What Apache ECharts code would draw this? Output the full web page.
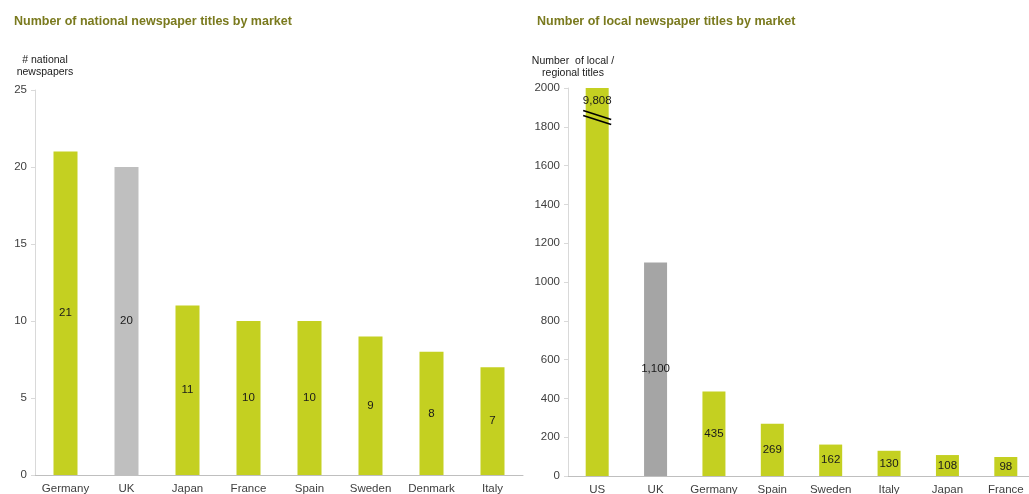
<!DOCTYPE html>
<html><head><meta charset="utf-8">
<script src="https://cdn.jsdelivr.net/npm/echarts@6/dist/echarts.min.js"></script>
<style>html,body{margin:0;padding:0;background:#fff}#c{width:1029px;height:494px}</style>
</head><body><div id="c"></div>
<script>
const nationalCategories = ['Germany','UK','Japan','France','Spain','Sweden','Denmark','Italy'];
const nationalValues = [21,20,11,10,10,9,8,7];
const localCategories = ['US','UK','Germany','Spain','Sweden','Italy','Japan','France'];
const localValues = [9808,1100,435,269,162,130,108,98];
const localBreakValue = 1845;

const GREEN = '#C4D021';
const FONT = '"Liberation Sans", Arial, sans-serif';
const chart = echarts.init(document.getElementById('c'));

function fmt(v){ return v.toLocaleString('en-US'); }

const axisLabelStyle = {color:'#404040', fontSize:11.5, fontFamily:FONT};

chart.setOption({
  animation:false,
  title:[
    {text:'Number of national newspaper titles by market', left:9, top:10,
     textStyle:{color:'#7A7A1E', fontSize:12.5, fontWeight:'bold', fontFamily:FONT}},
    {text:'Number of local newspaper titles by market', left:532, top:10,
     textStyle:{color:'#7A7A1E', fontSize:12.5, fontWeight:'bold', fontFamily:FONT}}
  ],
  grid:[
    {left:35, right:1029-523, top:90, bottom:19, outerBoundsMode:'none', containLabel:false},
    {left:568, right:-6, top:88, bottom:18, outerBoundsMode:'none', containLabel:false}
  ],
  xAxis:[
    {type:'category', gridIndex:0, data:nationalCategories,
     axisLine:{lineStyle:{color:'#BFBFBF'}}, axisTick:{show:false},
     axisLabel:Object.assign({margin:8, interval:0}, axisLabelStyle)},
    {type:'category', gridIndex:1, data:localCategories,
     axisLine:{lineStyle:{color:'#BFBFBF'}}, axisTick:{show:false},
     axisLabel:Object.assign({margin:8, interval:0}, axisLabelStyle)}
  ],
  yAxis:[
    {type:'value', gridIndex:0, min:0, max:25, interval:5,
     name:'# national\nnewspapers', nameLocation:'end', nameGap:12,
     nameTextStyle:{color:'#202020', fontSize:10.5, fontFamily:FONT, align:'center', lineHeight:12, padding:[0,0,0,20]},
     axisLine:{show:true, lineStyle:{color:'#D9D9D9'}},
     axisTick:{show:true, length:4, lineStyle:{color:'#D9D9D9'}},
     splitLine:{show:false},
     axisLabel:Object.assign({margin:8, formatter:v=>String(v)}, axisLabelStyle)},
    {type:'value', gridIndex:1, min:0, max:2000, interval:200,
     name:'Number  of local /\nregional titles', nameLocation:'end', nameGap:9,
     nameTextStyle:{color:'#202020', fontSize:10.5, fontFamily:FONT, align:'center', lineHeight:12, padding:[0,0,0,10]},
     axisLine:{show:true, lineStyle:{color:'#D9D9D9'}},
     axisTick:{show:true, length:4, lineStyle:{color:'#D9D9D9'}},
     splitLine:{show:false},
     axisLabel:Object.assign({margin:8, formatter:v=>String(v)}, axisLabelStyle)}
  ],
  series:[
    {type:'bar', xAxisIndex:0, yAxisIndex:0, barWidth:24,
     data:nationalValues.map((v,i)=>({value:v, itemStyle:{color: nationalCategories[i]==='UK' ? '#BFBFBF' : GREEN}})),
     label:{show:true, position:'inside', color:'#1a1a1a', fontSize:11.5, fontFamily:FONT}},
    {type:'bar', xAxisIndex:1, yAxisIndex:1, barWidth:23, clip:true,
     data:localValues.map((v,i)=>{
       const it = {value:Math.min(v,2000), itemStyle:{color: localCategories[i]==='UK' ? '#A5A5A5' : GREEN}};
       if (v > 2000) it.label = {position:'insideTop', distance:7};
       return it;
     }),
     label:{show:true, position:'inside', color:'#1a1a1a', fontSize:11.5, fontFamily:FONT,
       formatter:p=>fmt(localValues[p.dataIndex])}},
    {type:'custom', xAxisIndex:1, yAxisIndex:1, silent:true, z:5,
     data:localValues.map((v,i)=> v>2000 ? [i, localBreakValue] : null).filter(d=>d),
     renderItem:function(params, api){
       const c = api.coord([api.value(0), api.value(1)]);
       const half = 14;
       const mk = dy => ({type:'line', shape:{x1:c[0]-half, y1:c[1]-5+dy, x2:c[0]+half, y2:c[1]+4+dy},
                           style:{stroke:'#000', lineWidth:1.6}});
       return {type:'group', children:[mk(-2.5), mk(2.5)]};
     }}
  ]
});
</script></body></html>
